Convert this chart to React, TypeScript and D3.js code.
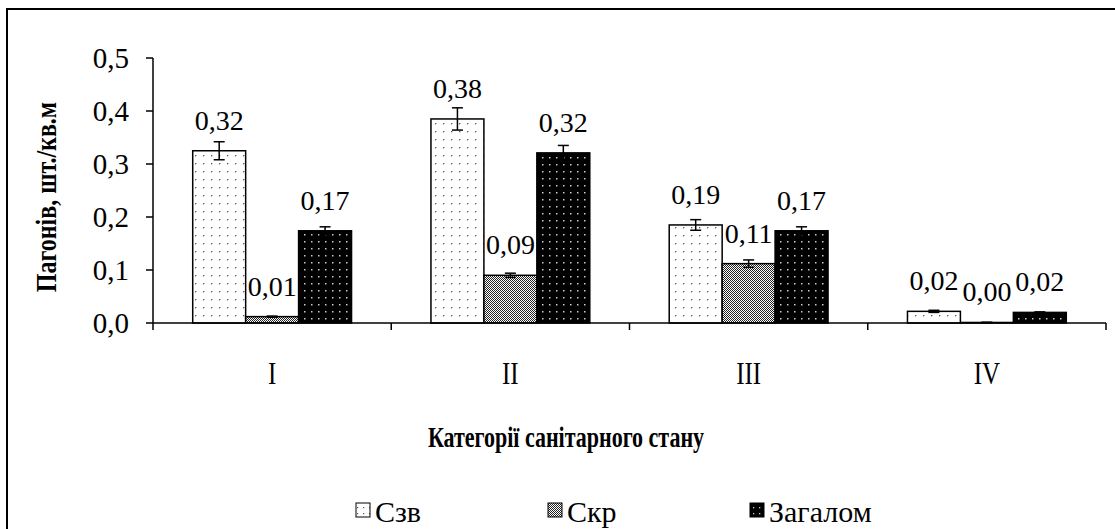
import React from "react";
import * as d3 from "d3";

const categories = ["I", "II", "III", "IV"];
const seriesNames = ["Сзв", "Скр", "Загалом"];
const szvValues = [0.325, 0.385, 0.185, 0.022];
const skrValues = [0.012, 0.09, 0.112, 0.001];
const zagValues = [0.174, 0.321, 0.174, 0.02];
const szvErrors = [0.017, 0.021, 0.01, 0.002];
const skrErrors = [0.001, 0.004, 0.007, 0.0005];
const zagErrors = [0.0075, 0.014, 0.0075, 0.001];
const szvLabels = ["0,32", "0,38", "0,19", "0,02"];
const skrLabels = ["0,01", "0,09", "0,11", "0,00"];
const zagLabels = ["0,17", "0,32", "0,17", "0,02"];
const yTicks = [0, 0.1, 0.2, 0.3, 0.4, 0.5];
const yTickLabels = ["0,0", "0,1", "0,2", "0,3", "0,4", "0,5"];

const FONT = "Liberation Serif";

export default function App() {
  const W = 1115;
  const H = 529;
  const x0 = 153, x1 = 1106, yTop = 58, yBot = 323;
  const x = d3.scaleBand<string>().domain(categories).range([x0, x1]).padding(0);
  const xi = d3.scaleBand<string>().domain(seriesNames).range([0, x.bandwidth()]).paddingInner(0).paddingOuter(0.75);
  const y = d3.scaleLinear().domain([0, 0.5]).range([yBot, yTop]);

  const series = [
    { name: "Сзв", values: szvValues, errs: szvErrors, labels: szvLabels, fill: "url(#pSzv)" },
    { name: "Скр", values: skrValues, errs: skrErrors, labels: skrLabels, fill: "url(#pSkr)" },
    { name: "Загалом", values: zagValues, errs: zagErrors, labels: zagLabels, fill: "url(#pZag)" },
  ];
  const bw = xi.bandwidth();

  const legendItems = [
    { name: "Сзв", fill: "url(#pSzvL)", x: 356 },
    { name: "Скр", fill: "url(#pSkr)", x: 548 },
    { name: "Загалом", fill: "url(#pZagL)", x: 750 },
  ];

  return (
    <div style={{ position: "absolute", left: 0, top: 0, width: W, height: H }}>
      <svg width={W} height={H} style={{ display: "block" }}>
        <style>{`text { font-family: "Liberation Serif", "Times New Roman", serif; }`}</style>
        <defs>
          <pattern id="pSzv" width="8" height="8" patternUnits="userSpaceOnUse">
            <rect width="8" height="8" fill="#fff" />
            <rect x="3" y="3" width="1.3" height="1.3" fill="#555" />
          </pattern>
          <pattern id="pSzvL" width="6" height="6" patternUnits="userSpaceOnUse">
            <rect width="6" height="6" fill="#fff" />
            <rect x="3" y="3" width="1.2" height="1.2" fill="#555" />
          </pattern>
          <pattern id="pSkr" width="2" height="2" patternUnits="userSpaceOnUse">
            <rect width="2" height="2" fill="#fff" />
            <rect x="0" y="0" width="1" height="1" fill="#222" />
            <rect x="1" y="1" width="1" height="1" fill="#222" />
          </pattern>
          <pattern id="pZag" width="7" height="7" patternUnits="userSpaceOnUse">
            <rect width="7" height="7" fill="#000" />
            <rect x="3" y="3" width="1.5" height="1.5" fill="#ccc" />
          </pattern>
          <pattern id="pZagL" width="6" height="6" patternUnits="userSpaceOnUse">
            <rect width="6" height="6" fill="#000" />
            <rect x="3" y="3" width="1.3" height="1.3" fill="#ccc" />
          </pattern>
        </defs>
        <rect x={0} y={0} width={W} height={H} fill="#fff" />
        <rect x={7} y={9} width={1130} height={540} fill="none" stroke="#000" strokeWidth={2} />

        {series.map((s) =>
          categories.map((c, i) => {
            const bx = (x(c) as number) + (xi(s.name) as number);
            const by = y(s.values[i]);
            return (
              <rect key={s.name + c} x={bx} y={by} width={bw} height={yBot - by} fill={s.fill} stroke="#000" strokeWidth={1.5} />
            );
          })
        )}

        {series.map((s) =>
          categories.map((c, i) => {
            const cx = (x(c) as number) + (xi(s.name) as number) + bw / 2;
            const hi = y(s.values[i] + s.errs[i]);
            const lo = y(Math.max(0, s.values[i] - s.errs[i]));
            return (
              <g key={"e" + s.name + c} stroke="#000" strokeWidth={1.5}>
                <line x1={cx} x2={cx} y1={hi} y2={lo} />
                <line x1={cx - 5.5} x2={cx + 5.5} y1={hi} y2={hi} />
                <line x1={cx - 5.5} x2={cx + 5.5} y1={lo} y2={lo} />
              </g>
            );
          })
        )}

        {series.map((s) =>
          categories.map((c, i) => {
            const cx = (x(c) as number) + (xi(s.name) as number) + bw / 2;
            return (
              <text key={"l" + s.name + c} x={cx} y={y(s.values[i]) - 21} textAnchor="middle" fontFamily={FONT} fontSize={28} fill="#000">
                {s.labels[i]}
              </text>
            );
          })
        )}

        <line x1={x0} x2={x0} y1={yTop} y2={yBot} stroke="#000" strokeWidth={1.5} />
        {yTicks.map((t, i) => (
          <g key={"yt" + t}>
            <line x1={x0 - 7} x2={x0} y1={y(t)} y2={y(t)} stroke="#000" strokeWidth={1.5} />
            <text x={x0 - 24} y={y(t)} dy="0.35em" textAnchor="end" fontFamily={FONT} fontSize={29} fill="#000">
              {yTickLabels[i]}
            </text>
          </g>
        ))}

        <line x1={x0} x2={x1} y1={yBot} y2={yBot} stroke="#000" strokeWidth={1.5} />
        {[...categories.map((c) => x(c) as number), x1].map((v, i) => (
          <line key={"xt" + i} x1={v} x2={v} y1={yBot} y2={yBot + 7} stroke="#000" strokeWidth={1.5} />
        ))}
        {categories.map((c) => (
          <text key={"xl" + c} transform={`translate(${(x(c) as number) + x.bandwidth() / 2},373) scale(1,1.25)`} dy="0.35em" textAnchor="middle" fontFamily={FONT} fontSize={25} fill="#000">
            {c}
          </text>
        ))}

        <text transform="translate(566,437) scale(1,1.3)" dy="0.35em" textAnchor="middle" fontFamily={FONT} fontSize={22} fontWeight="bold" fill="#000">
          Категорії санітарного стану
        </text>
        <text transform="translate(45,197) rotate(-90) scale(1,1.25)" dy="0.35em" textAnchor="middle" fontFamily={FONT} fontSize={24} fontWeight="bold" fill="#000">
          Пагонів, шт./кв.м
        </text>

        {legendItems.map((l) => (
          <g key={"lg" + l.name}>
            <rect x={l.x} y={503} width={14} height={14} fill={l.fill} stroke="#000" strokeWidth={1} />
            <text x={l.x + 19} y={511} dy="0.35em" fontFamily={FONT} fontSize={30} fill="#000">
              {l.name}
            </text>
          </g>
        ))}
      </svg>
    </div>
  );
}
